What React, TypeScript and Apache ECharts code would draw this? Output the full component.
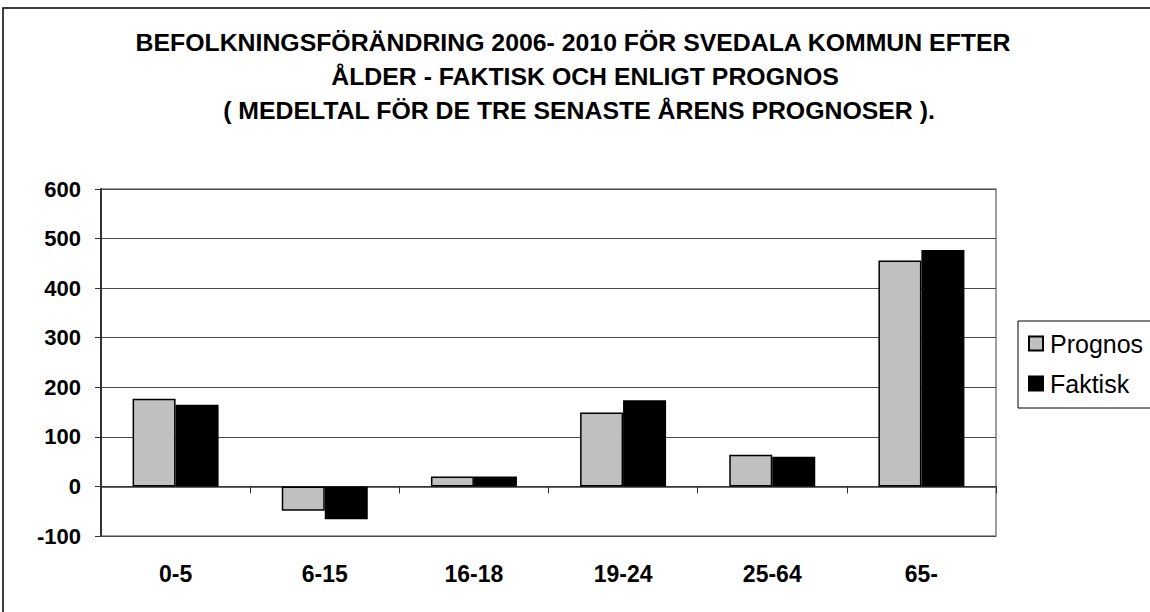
import React, { useEffect, useRef } from 'react';
import * as echarts from 'echarts';

const categories = ['0-5', '6-15', '16-18', '19-24', '25-64', '65-'];
const prognos = [177, -49, 20, 149, 64, 456];
const faktisk = [165, -66, 20, 174, 60, 477];
const seriesNames = ['Prognos', 'Faktisk'];
const yMin = -100;
const yMax = 600;
const yInterval = 100;
const titleLines = [
  'BEFOLKNINGSFÖRÄNDRING 2006- 2010 FÖR SVEDALA KOMMUN EFTER',
  'ÅLDER - FAKTISK OCH ENLIGT PROGNOS',
  '( MEDELTAL FÖR DE TRE SENASTE ÅRENS PROGNOSER ).',
];

const FONT = "'Liberation Sans', Arial, Helvetica, sans-serif";
const titlePos = [
  { x: 573, y: 43 },
  { x: 585, y: 77 },
  { x: 579, y: 111 },
];

export default function App() {
  const ref = useRef<HTMLDivElement>(null);
  useEffect(() => {
    if (!ref.current) return;
    const chart = echarts.init(ref.current, null, { renderer: 'svg' });
    chart.setOption({
      animation: false,
      backgroundColor: '#ffffff',
      grid: {
        left: 101,
        right: 154,
        top: 189,
        bottom: 76,
        show: true,
        borderColor: '#808080',
        borderWidth: 1.5,
        backgroundColor: 'transparent',
      },
      legend: {
        data: seriesNames,
        orient: 'vertical',
        left: 1018,
        top: 321,
        padding: [10, 30, 12, 10],
        itemGap: 15,
        itemWidth: 14,
        itemHeight: 14,
        icon: 'rect',
        borderColor: '#000',
        borderWidth: 1,
        textStyle: { fontSize: 25, color: '#000', fontFamily: FONT, padding: [0, 0, 0, 2] },
      },
      xAxis: [
        {
          type: 'category',
          data: categories,
          position: 'bottom',
          axisLine: { show: false, onZero: false },
          axisTick: { show: false },
          splitLine: { show: false },
          axisLabel: {
            fontSize: 23,
            fontWeight: 'bold',
            color: '#000',
            fontFamily: FONT,
            margin: 26,
          },
        },
        {
          type: 'category',
          data: categories,
          position: 'bottom',
          axisLine: { show: true, onZero: true, lineStyle: { color: '#333', width: 1.5 } },
          axisTick: { show: true, length: 7, lineStyle: { color: '#333', width: 1 } },
          axisLabel: { show: false },
          splitLine: { show: false },
        },
      ],
      yAxis: {
        type: 'value',
        min: yMin,
        max: yMax,
        interval: yInterval,
        axisLine: { show: true, lineStyle: { color: '#333', width: 2 } },
        axisTick: { show: true, length: 6, lineStyle: { color: '#333', width: 1 } },
        axisLabel: {
          fontSize: 22,
          fontWeight: 'bold',
          color: '#000',
          fontFamily: FONT,
          margin: 20,
        },
        splitLine: { show: true, lineStyle: { color: '#4a4a4a', width: 1 } },
      },
      series: [
        {
          name: seriesNames[0],
          type: 'bar',
          xAxisIndex: 0,
          data: prognos,
          barWidth: 43,
          barGap: '0%',
          itemStyle: { color: '#C0C0C0', borderColor: '#000', borderWidth: 1.5 },
        },
        {
          name: seriesNames[1],
          type: 'bar',
          xAxisIndex: 0,
          data: faktisk,
          barWidth: 43,
          barGap: '0%',
          itemStyle: { color: '#000', borderColor: '#000', borderWidth: 1.5 },
        },
      ],
      graphic: [
        {
          type: 'rect',
          z: -10,
          silent: true,
          shape: { x: 3, y: 8, width: 1300, height: 800 },
          style: { fill: 'none', stroke: '#000', lineWidth: 1.5 },
        },
        ...titleLines.map((t, i) => ({
          type: 'text',
          x: titlePos[i].x,
          y: titlePos[i].y,
          scaleX: 1.08,
          style: {
            text: t,
            font: `bold 23px ${FONT}`,
            fill: '#000',
            align: 'center',
            verticalAlign: 'middle',
          },
        })),
      ],
    });
    return () => chart.dispose();
  }, []);
  return (
    <div
      ref={ref}
      style={{ position: 'fixed', left: 0, top: 0, width: 1150, height: 612 }}
    />
  );
}
